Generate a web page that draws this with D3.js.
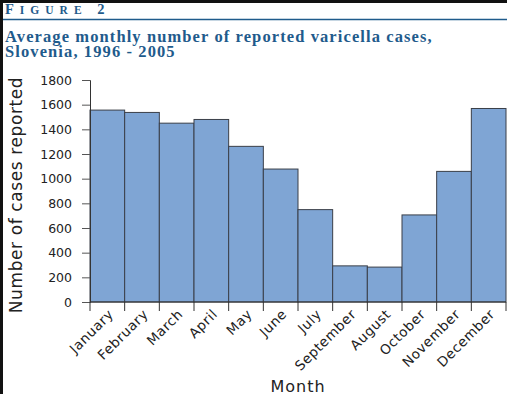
<!DOCTYPE html>
<html>
<head>
  <meta charset="utf-8">
  <title>Varicella cases</title>
  <style>
    body { margin: 0; background: #fff; }
    svg { display: block; }
  </style>
</head>
<body>
  <svg id="main" width="507" height="394"></svg>
  <script src="https://cdn.jsdelivr.net/npm/d3@7"></script>
  <script>
    const months = ['January', 'February', 'March', 'April', 'May', 'June', 'July',
      'September', 'August', 'October', 'November', 'December']
    const cases = [1556, 1537, 1450, 1480, 1262, 1078, 749, 293, 283, 706, 1059, 1569]
    const yTicks = [0, 200, 400, 600, 800, 1000, 1200, 1400, 1600, 1800]

    const svg = d3.select('#main')
    const width = +svg.attr('width')
    const height = +svg.attr('height')
    const margin = { top: 80, right: 1, bottom: 92, left: 90 }
    const innerWidth = width - margin.left - margin.right
    const innerHeight = height - margin.top - margin.bottom
    const blue = '#1f5b8c'
    const axisFont = '"DejaVu Sans", sans-serif'

    // frame bits of the scanned figure
    svg.append('rect').attr('x', 0).attr('y', 0).attr('width', width).attr('height', 3).attr('fill', '#111')
    svg.append('rect').attr('x', 0).attr('y', 0).attr('width', 3).attr('height', height).attr('fill', '#111')

    svg.append('text')
      .attr('x', 5).attr('y', 14)
      .attr('font-family', '"Liberation Serif", serif')
      .attr('font-weight', 'bold')
      .attr('fill', blue)
      .attr('letter-spacing', '6px')
      .html('<tspan font-size="14.5">F</tspan><tspan font-size="11.5">IGURE</tspan><tspan font-size="14.5"> 2</tspan>')

    svg.append('line')
      .attr('x1', 3).attr('x2', width).attr('y1', 19.5).attr('y2', 19.5)
      .attr('stroke', blue).attr('stroke-width', 1.6)

    const title = svg.append('text')
      .attr('font-family', '"Liberation Serif", serif')
      .attr('font-weight', 'bold')
      .attr('font-size', 16.5)
      .attr('letter-spacing', '1.1px')
      .attr('fill', blue)
    title.append('tspan').attr('x', 5).attr('y', 42).text('Average monthly number of reported varicella cases,')
    title.append('tspan').attr('x', 5).attr('y', 57).text('Slovenia, 1996 - 2005')

    const chart = svg.append('g')
      .attr('transform', `translate(${margin.left},${margin.top})`)

    const x = d3.scaleBand().domain(months).range([0, innerWidth]).padding(0)
    const y = d3.scaleLinear().domain([0, 1800]).range([innerHeight, 0])

    chart.append('g')
      .selectAll('rect')
      .data(months)
      .join('rect')
      .attr('x', d => x(d))
      .attr('y', (d, i) => y(cases[i]))
      .attr('width', x.bandwidth())
      .attr('height', (d, i) => innerHeight - y(cases[i]))
      .attr('fill', '#7fa5d4')
      .attr('stroke', '#3a3f48')
      .attr('stroke-width', 1)

    // y axis
    const yAxis = chart.append('g')
      .call(d3.axisLeft(y).tickValues(yTicks).tickFormat(d3.format('d')).tickSize(8).tickPadding(10))
    yAxis.select('.domain').attr('stroke', '#333')
    yAxis.selectAll('.tick line').attr('stroke', '#555')
    yAxis.selectAll('text')
      .attr('font-family', axisFont)
      .attr('font-size', 12.5)
      .attr('fill', '#222')

    // x axis: ticks at bar edges, labels at bar centres
    const xAxis = chart.append('g')
      .attr('transform', `translate(0,${innerHeight})`)
    xAxis.append('line')
      .attr('x1', 0).attr('x2', innerWidth)
      .attr('stroke', '#333')
    xAxis.selectAll('.edge')
      .data(months.concat(['end']))
      .join('line')
      .attr('class', 'edge')
      .attr('x1', (d, i) => i * x.bandwidth())
      .attr('x2', (d, i) => i * x.bandwidth())
      .attr('y1', 0).attr('y2', 9)
      .attr('stroke', '#333')
    xAxis.selectAll('.lbl')
      .data(months)
      .join('text')
      .attr('class', 'lbl')
      .attr('transform', d => `translate(${x(d) + x.bandwidth() / 2 + 7},${13}) rotate(-45)`)
      .attr('text-anchor', 'end')
      .attr('font-family', axisFont)
      .attr('font-size', 13.5)
      .attr('letter-spacing', '0.6px')
      .attr('fill', '#222')
      .text(d => d)

    chart.append('text')
      .attr('x', innerWidth / 2)
      .attr('y', innerHeight + 90)
      .attr('text-anchor', 'middle')
      .attr('font-family', axisFont)
      .attr('font-size', 16)
      .attr('letter-spacing', '1px')
      .attr('fill', '#222')
      .text('Month')

    chart.append('text')
      .attr('transform', `translate(${22 - margin.left},${innerHeight / 2 + 4}) rotate(-90)`)
      .attr('text-anchor', 'middle')
      .attr('font-family', axisFont)
      .attr('font-size', 17)
      .attr('letter-spacing', '0.6px')
      .attr('fill', '#222')
      .text('Number of cases reported')
  </script>
</body>
</html>
